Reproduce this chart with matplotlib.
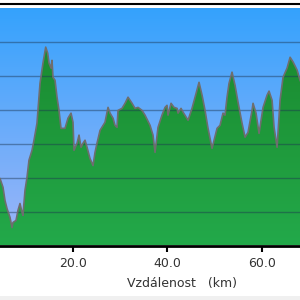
import numpy as np
import matplotlib
matplotlib.use("Agg")
import matplotlib.pyplot as plt
from matplotlib.colors import LinearSegmentedColormap
from matplotlib.lines import Line2D
from matplotlib.patches import Rectangle

distance_km = [0.0, 4.63, 5.26, 5.68, 6.11, 6.74, 7.16, 7.37, 8.01, 8.43, 8.85, 9.28, 9.49, 9.59, 9.70,
               9.91, 10.33, 10.75, 11.39, 11.81, 12.44, 13.08, 13.71, 14.28, 14.70, 14.98, 15.40, 15.61,
               15.82, 16.25, 16.67, 17.09, 17.51, 18.36, 18.99, 19.63, 20.05, 20.26, 20.90, 21.32, 21.74,
               22.16, 22.59, 23.01, 23.64, 24.28, 24.70, 25.12, 25.76, 26.81, 27.45, 27.87, 28.50, 28.92,
               29.35, 29.56, 30.40, 31.04, 31.67, 32.52, 33.15, 33.79, 34.63, 35.26, 36.32, 36.95, 37.38,
               38.01, 38.85, 39.49, 39.91, 40.12, 40.76, 41.39, 42.03, 42.24, 42.87, 43.29, 44.35, 45.19,
               45.83, 46.67, 47.31, 47.94, 48.57, 49.42, 50.48, 51.11, 51.74, 52.16, 52.59, 53.01, 53.64,
               54.28, 54.91, 55.76, 56.39, 57.02, 57.87, 58.08, 58.71, 59.35, 60.20, 61.04, 61.46, 62.10,
               62.52, 63.16, 63.79, 64.42, 65.27, 65.91, 66.54, 67.39, 68.01, 69.07]
elevation_m = [522, 498, 472, 433, 409, 383, 353, 368, 374, 404, 424, 398, 389, 409, 427,
               463, 501, 552, 581, 611, 661, 779, 839, 886, 868, 839, 824, 847,
               797, 788, 738, 699, 646, 646, 676, 691, 664, 581, 602, 626, 590,
               602, 611, 590, 557, 536, 575, 602, 640, 664, 708, 691, 676, 655,
               649, 699, 705, 720, 738, 720, 705, 708, 699, 685, 655, 626, 575,
               649, 685, 708, 714, 685, 720, 708, 705, 691, 705, 694, 670, 705,
               738, 782, 744, 699, 646, 587, 646, 655, 691, 685, 738, 779, 812,
               773, 723, 661, 620, 634, 699, 720, 691, 631, 708, 744, 756, 729,
               649, 590, 729, 797, 824, 856, 842, 818, 788, 759]
x_ticks = [20, 40, 60]
x_tick_labels = ["20.0", "40.0", "60.0"]
grid_levels = [400, 500, 600, 700, 800, 900]
x_label = "Vzdálenost   (km)"

x = np.array(distance_km)
y = np.array(elevation_m)
ymin, ymax = 300, 1003
xmin, xmax = 0, 68.0

fig = plt.figure(figsize=(3, 3), dpi=100)
fig.patch.set_facecolor("white")
ax = fig.add_axes([-21.9 / 300, 1 - 245.5 / 300, 321.9 / 300, 238 / 300])
ax.set_xlim(xmin, xmax)
ax.set_ylim(ymin, ymax)

# sky gradient
sky = LinearSegmentedColormap.from_list("sky", ["#9fb6f8", "#34a2fd"])
grad = np.linspace(0, 1, 256).reshape(-1, 1)
ax.imshow(grad, cmap=sky, origin="lower", aspect="auto",
          extent=[xmin, xmax, ymin, ymax], zorder=0)

# terrain fill with green gradient, clipped to the profile
poly = ax.fill_between(x, ymin, y, facecolor="none", edgecolor="none", zorder=1)
greens = LinearSegmentedColormap.from_list("gr", ["#23a94a", "#1f9a3c", "#1a8a30"])
gimg = ax.imshow(grad, cmap=greens, origin="lower", aspect="auto",
                 extent=[xmin, xmax, ymin, 900], zorder=1)
gimg.set_clip_path(poly.get_paths()[0], transform=ax.transData)

ax.plot(x, y, color="#6e6e6e", lw=1.2, zorder=3)

for g in grid_levels:
    ax.axhline(g, color="#1c3550", alpha=0.45, lw=1.0, zorder=2)

for s in ["top", "left", "right"]:
    ax.spines[s].set_visible(False)
ax.spines["bottom"].set_linewidth(2)
ax.spines["bottom"].set_color("black")
ax.set_yticks([])
ax.set_xticks(x_ticks)
ax.set_xticklabels(x_tick_labels)
ax.tick_params(axis="x", direction="out", length=4, width=1.5, color="black",
               labelsize=9, labelcolor="#333333", pad=4)

fig.text(182 / 300, 1 - 283 / 300, x_label, ha="center", va="center",
         fontsize=9, color="#333333")

fig.add_artist(Line2D([0, 1], [1 - 3.5 / 300, 1 - 3.5 / 300], color="black", lw=1.5,
                      transform=fig.transFigure))
fig.add_artist(Rectangle((0, 0), 1, 4 / 300, transform=fig.transFigure,
                         facecolor="#f0f0f0", edgecolor="none"))

fig.savefig("out.png", dpi=100)
